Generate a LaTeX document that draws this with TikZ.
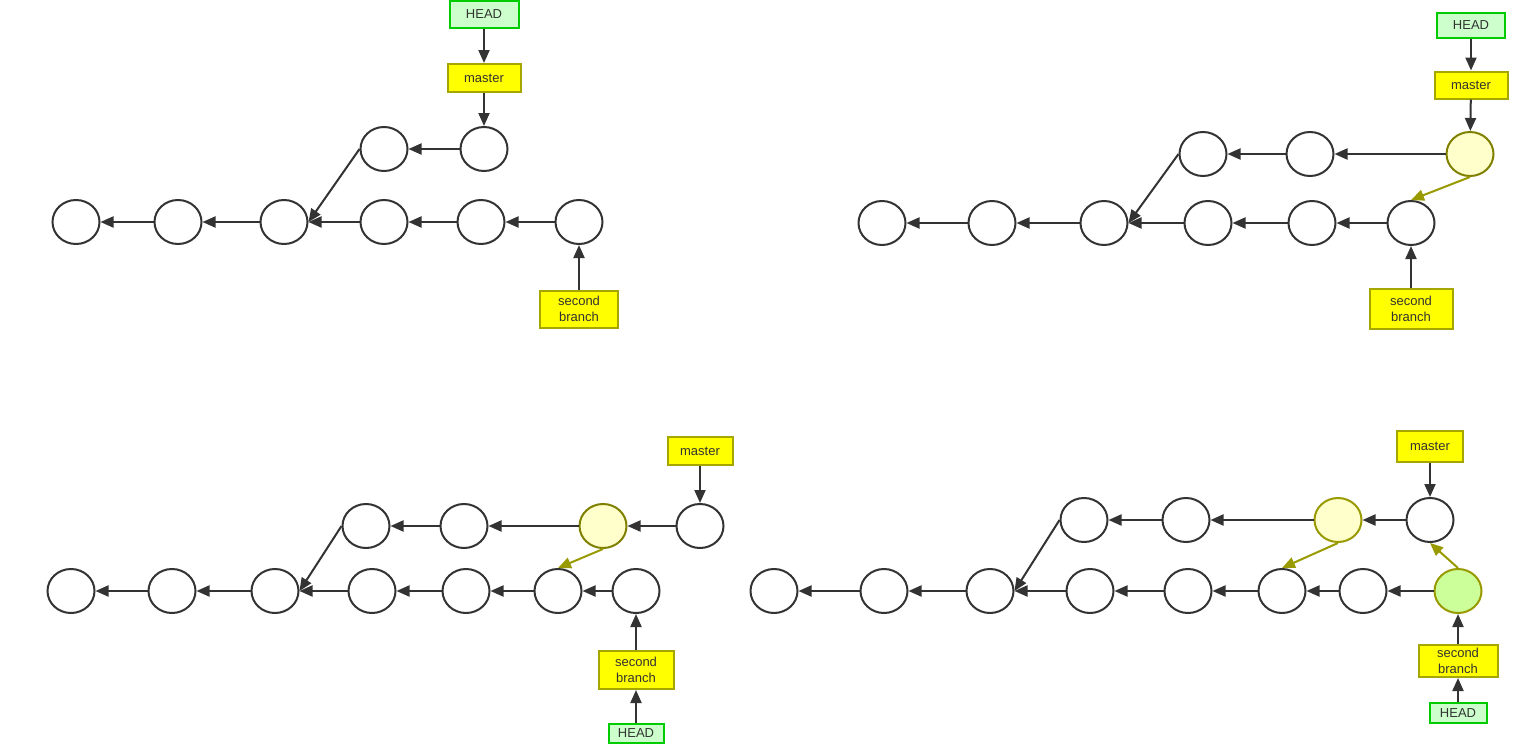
\documentclass[tikz,border=0pt]{standalone}
\usepackage{fontspec}
\setmainfont{Liberation Sans}
\usetikzlibrary{arrows.meta,shapes.geometric}
\definecolor{ink}{HTML}{333333}
\definecolor{headfill}{HTML}{CCFFCC}
\definecolor{headline}{HTML}{00CC00}
\definecolor{branchfill}{HTML}{FFFF00}
\definecolor{branchline}{HTML}{A6A600}
\definecolor{newfill}{HTML}{FFFFCC}
\definecolor{newline}{HTML}{808000}
\definecolor{mergefill}{HTML}{CCFF99}
\definecolor{rebase}{HTML}{999900}
\tikzset{
  commit/.style={ellipse,draw=ink,line width=2pt,fill=white,minimum width=47pt,minimum height=44pt,inner sep=0pt},
  newcommit/.style={commit,draw=newline,fill=newfill},
  mergecommit/.style={commit,draw=rebase,fill=mergefill},
  headbox/.style={rectangle,draw=headline,fill=headfill,line width=2pt,inner sep=0pt,text=ink},
  branchbox/.style={rectangle,draw=branchline,fill=branchfill,line width=2pt,inner sep=0pt,text=ink,align=center},
  link/.style={draw=ink,line width=2pt,-{Triangle[length=13pt,width=11pt]}},
  movelink/.style={draw=rebase,line width=2pt,-{Triangle[length=13pt,width=11pt]}}
}
\begin{document}
\begin{tikzpicture}[x=1pt,y=-1pt,font=\fontsize{13}{16}\selectfont]
\useasboundingbox (0,0) rectangle (1540,744);

% panel 1: two branches
\node[headbox,minimum width=69pt,minimum height=27pt] (h1) at (484,14) {HEAD};
\node[branchbox,minimum width=73pt,minimum height=28pt] (m1) at (484,78) {master};
\node[commit] (t11) at (384,149) {};
\node[commit] (t12) at (484,149) {};
\node[commit] (b11) at (76,222) {};
\node[commit] (b12) at (178,222) {};
\node[commit] (b13) at (284,222) {};
\node[commit] (b14) at (384,222) {};
\node[commit] (b15) at (481,222) {};
\node[commit] (b16) at (579,222) {};
\node[branchbox,minimum width=78pt,minimum height=37pt] (s1) at (579,309) {second\\branch};

\draw[link] (h1) -- (m1);
\draw[link] (m1) -- (t12);
\draw[link] (t12) -- (t11);
\draw[link] (t11.west) -- (b13.east);
\foreach \a/\b in {b16/b15,b15/b14,b14/b13,b13/b12,b12/b11}
  \draw[link] (\a) -- (\b);
\draw[link] (s1) -- (b16);

% panel 2: commit on master
\node[headbox,minimum width=68pt,minimum height=25pt] (h2) at (1471,25) {HEAD};
\node[branchbox,minimum width=73pt,minimum height=27pt] (m2) at (1471,85) {master};
\node[commit] (t21) at (1203,154) {};
\node[commit] (t22) at (1310,154) {};
\node[newcommit] (t23) at (1470,154) {};
\node[commit] (b21) at (882,223) {};
\node[commit] (b22) at (992,223) {};
\node[commit] (b23) at (1104,223) {};
\node[commit] (b24) at (1208,223) {};
\node[commit] (b25) at (1312,223) {};
\node[commit] (b26) at (1411,223) {};
\node[branchbox,minimum width=83pt,minimum height=40pt] (s2) at (1411,309) {second\\branch};

\draw[link] (h2) -- (m2);
\draw[link] (m2) -- (t23);
\draw[link] (t23) -- (t22);
\draw[link] (t22) -- (t21);
\draw[link] (t21.west) -- (b23.east);
\draw[movelink] (t23.south) -- (b26.north);
\foreach \a/\b in {b26/b25,b25/b24,b24/b23,b23/b22,b22/b21}
  \draw[link] (\a) -- (\b);
\draw[link] (s2) -- (b26);

% panel 3: commit on second branch
\node[branchbox,minimum width=65pt,minimum height=28pt] (m3) at (700,451) {master};
\node[commit] (t31) at (366,526) {};
\node[commit] (t32) at (464,526) {};
\node[newcommit] (t33) at (603,526) {};
\node[commit] (t34) at (700,526) {};
\node[commit] (b31) at (71,591) {};
\node[commit] (b32) at (172,591) {};
\node[commit] (b33) at (275,591) {};
\node[commit] (b34) at (372,591) {};
\node[commit] (b35) at (466,591) {};
\node[commit] (b36) at (558,591) {};
\node[commit] (b37) at (636,591) {};
\node[branchbox,minimum width=75pt,minimum height=38pt] (s3) at (636,670) {second\\branch};
\node[headbox,minimum width=55pt,minimum height=19pt] (h3) at (636,733) {HEAD};

\draw[link] (m3) -- (t34);
\draw[link] (t34) -- (t33);
\draw[link] (t33) -- (t32);
\draw[link] (t32) -- (t31);
\draw[link] (t31.west) -- (b33.east);
\draw[movelink] (t33.south) -- (b36.north);
\foreach \a/\b in {b37/b36,b36/b35,b35/b34,b34/b33,b33/b32,b32/b31}
  \draw[link] (\a) -- (\b);
\draw[link] (s3) -- (b37);
\draw[link] (h3) -- (s3);

% panel 4: merge
\node[branchbox,minimum width=66pt,minimum height=31pt] (m4) at (1430,446) {master};
\node[commit] (t41) at (1084,520) {};
\node[commit] (t42) at (1186,520) {};
\node[newcommit,draw=rebase] (t43) at (1338,520) {};
\node[commit] (t44) at (1430,520) {};
\node[commit] (b41) at (774,591) {};
\node[commit] (b42) at (884,591) {};
\node[commit] (b43) at (990,591) {};
\node[commit] (b44) at (1090,591) {};
\node[commit] (b45) at (1188,591) {};
\node[commit] (b46) at (1282,591) {};
\node[commit] (b47) at (1363,591) {};
\node[mergecommit] (b48) at (1458,591) {};
\node[branchbox,minimum width=79pt,minimum height=32pt] (s4) at (1458,661) {second\\branch};
\node[headbox,minimum width=57pt,minimum height=20pt] (h4) at (1458,713) {HEAD};

\draw[link] (m4) -- (t44);
\draw[link] (t44) -- (t43);
\draw[link] (t43) -- (t42);
\draw[link] (t42) -- (t41);
\draw[link] (t41.west) -- (b43.east);
\draw[movelink] (t43.south) -- (b46.north);
\draw[movelink] (b48.north) -- (t44.south);
\foreach \a/\b in {b48/b47,b47/b46,b46/b45,b45/b44,b44/b43,b43/b42,b42/b41}
  \draw[link] (\a) -- (\b);
\draw[link] (s4) -- (b48);
\draw[link] (h4) -- (s4);

\end{tikzpicture}
\end{document}
